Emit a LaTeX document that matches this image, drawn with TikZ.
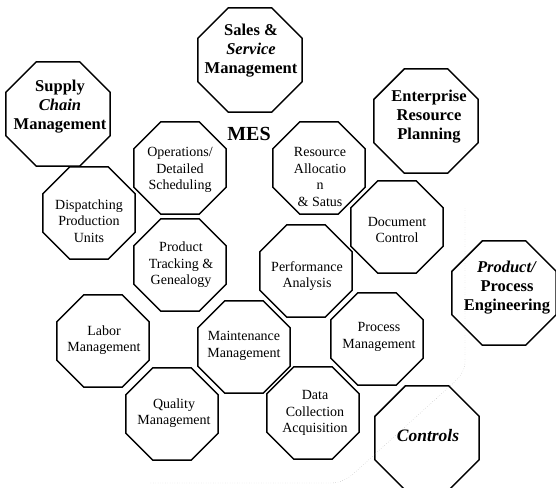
\documentclass[tikz,border=0pt]{standalone}
\usepackage{fontspec}
\setmainfont{Liberation Serif}
\usepackage{tikz}
\usetikzlibrary{shapes.geometric,positioning}
\tikzset{%
	octbig/.style   = {draw, regular polygon, regular polygon sides=8, minimum size=113pt, inner sep=0pt, line width=1.5pt},
	octsmall/.style = {octbig, minimum size=100pt},
	txtsmall/.style = {align=center, inner sep=0pt, font=\fontsize{14}{16.5}\selectfont},
	txtbig/.style   = {align=center, inner sep=0pt, font=\fontsize{16.5}{19}\selectfont\bfseries},
	boundary/.style = {gray!70, dotted, thin},
}
\begin{document}
\begin{tikzpicture}[x=1pt,y=-1pt]
	\useasboundingbox (0,0) rectangle (556,487);
	% outer systems
	\node[octbig] (sales) at (250,60) {};
	\node[txtbig] (sales-t) at (251,51) {Sales \&\\\textit{Service}\\Management};
	\node[octbig] (supply) at (58,114) {};
	\node[txtbig] (supply-t) at (60,107) {Supply\\\textit{Chain}\\Management};
	\node[octbig] (erp) at (426,121) {};
	\node[txtbig] (erp-t) at (429,117) {Enterprise\\Resource\\Planning};
	\node[octbig] (ppe) at (504,293) {};
	\node[txtbig] (ppe-t) at (507,288) {\textit{Product/}\\Process\\Engineering};
	\node[octbig] (ctrl) at (427,438) {};
	\node[txtbig, font=\fontsize{17.5}{20}\selectfont\bfseries\itshape] (ctrl-t) at (428,436) {Controls};
	
	% MES functions
	\node[font=\fontsize{20}{24}\selectfont\bfseries] (mes) at (249,134) {MES};
	\node[octsmall] (ops) at (180,168) {};
	\node[txtsmall] (ops-t) at (180,170) {Operations/\\Detailed\\Scheduling};
	\node[octsmall] (res) at (319,168) {};
	\node[txtsmall] (res-t) at (320,177) {Resource\\Allocatio\\n\\\& Satus};
	\node[octsmall] (disp) at (89,213) {};
	\node[txtsmall] (disp-t) at (89,221) {Dispatching\\Production\\Units};
	\node[octsmall] (doc) at (397,227) {};
	\node[txtsmall] (doc-t) at (397,230) {Document\\Control};
	\node[octsmall] (track) at (180,265) {};
	\node[txtsmall] (track-t) at (181,265) {Product\\Tracking \&\\Genealogy};
	\node[octsmall] (perf) at (306,271) {};
	\node[txtsmall] (perf-t) at (307,276) {Performance\\Analysis};
	\node[octsmall] (labor) at (103,341) {};
	\node[txtsmall] (labor-t) at (104,340) {Labor\\Management};
	\node[octsmall] (maint) at (244,347) {};
	\node[txtsmall] (maint-t) at (244,346) {Maintenance\\Management};
	\node[octsmall] (proc) at (377,339) {};
	\node[txtsmall] (proc-t) at (379,337) {Process\\Management};
	\node[octsmall] (qual) at (172,414) {};
	\node[txtsmall] (qual-t) at (174,413) {Quality\\Management};
	\node[octsmall] (data) at (313,413) {};
	\node[txtsmall] (data-t) at (315,413) {Data\\Collection\\Acquisition};
	
	% MES boundary
	\draw[boundary] (465,208) -- (465,362) .. controls (465,372) and (458,379) .. (450,386) -- (352,475) .. controls (344,481) and (338,483) .. (330,483) -- (150,483);
\end{tikzpicture}
\end{document}
